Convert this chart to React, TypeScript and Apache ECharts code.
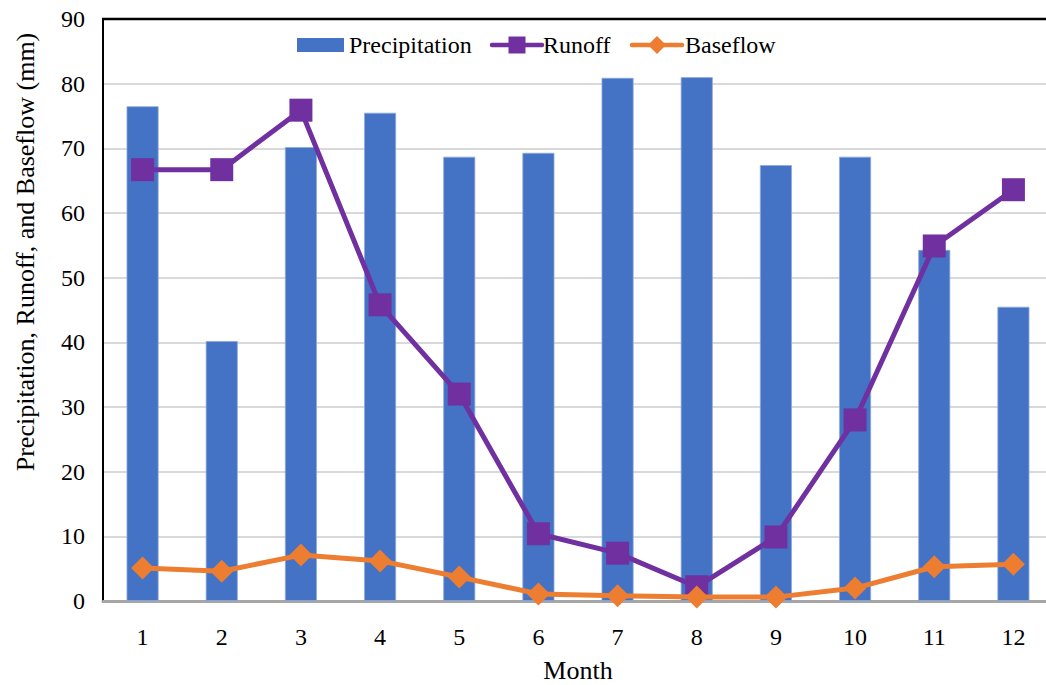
import React, { useEffect, useRef } from "react";
import * as echarts from "echarts";

const months = ["1", "2", "3", "4", "5", "6", "7", "8", "9", "10", "11", "12"];
const precipitation = [76.5, 40.2, 70.2, 75.5, 68.7, 69.3, 80.9, 81.0, 67.4, 68.7, 54.3, 45.5];
const runoff = [66.7, 66.7, 75.9, 45.8, 32.0, 10.4, 7.4, 2.2, 9.9, 28.0, 54.9, 63.6];
const baseflow = [5.1, 4.6, 7.1, 6.2, 3.7, 1.1, 0.8, 0.6, 0.6, 2.0, 5.3, 5.7];

const FONT = "Times New Roman";
const BLUE = "#4472C4";
const PURPLE = "#7030A0";
const ORANGE = "#ED7D31";

export default function App() {
  const ref = useRef<HTMLDivElement>(null);
  useEffect(() => {
    if (!ref.current) return;
    const chart = echarts.init(ref.current, null, { renderer: "svg" });
    const legendText = (x: number, text: string) => ({
      type: "text",
      x,
      y: 45,
      style: {
        text,
        fontFamily: FONT,
        fontSize: 24,
        fill: "#000",
        textAlign: "left",
        textVerticalAlign: "middle",
      },
    });
    chart.setOption({
      animation: false,
      textStyle: { fontFamily: FONT },
      grid: { left: 103, top: 19, right: -7, bottom: 84, containLabel: false, outerBoundsMode: "none" },
      xAxis: {
        type: "category",
        data: months,
        name: "Month",
        nameLocation: "middle",
        nameGap: 56,
        nameTextStyle: { fontFamily: FONT, fontSize: 26, color: "#000" },
        axisLine: { lineStyle: { color: "#a6a6a6", width: 3 } },
        axisTick: { show: false },
        axisLabel: { fontFamily: FONT, fontSize: 24, color: "#000", margin: 24 },
      },
      yAxis: {
        type: "value",
        min: 0,
        max: 90,
        interval: 10,
        axisLine: { show: true, lineStyle: { color: "#000", width: 2 } },
        axisTick: { show: false },
        axisLabel: { fontFamily: FONT, fontSize: 24, color: "#000", margin: 18 },
        splitLine: { lineStyle: { color: "#d9d9d9", width: 2 } },
      },
      graphic: [
        {
          type: "line",
          shape: { x1: 102, y1: 19, x2: 1046, y2: 19 },
          style: { stroke: "#000", lineWidth: 2.5 },
          z: 100,
        },
        {
          type: "text",
          x: 25,
          y: 252,
          rotation: Math.PI / 2,
          style: {
            text: "Precipitation, Runoff, and Baseflow (mm)",
            fontFamily: FONT,
            fontSize: 26,
            fill: "#000",
            textAlign: "center",
            textVerticalAlign: "middle",
          },
        },
        // legend
        {
          type: "rect",
          shape: { x: 297, y: 38, width: 47, height: 14 },
          style: { fill: BLUE },
          z: 50,
        },
        legendText(349, "Precipitation"),
        {
          type: "line",
          shape: { x1: 492, y1: 45, x2: 542, y2: 45 },
          style: { stroke: PURPLE, lineWidth: 4.5, lineCap: "round" },
          z: 50,
        },
        {
          type: "rect",
          shape: { x: 508.5, y: 36.5, width: 17, height: 17 },
          style: { fill: PURPLE },
          z: 51,
        },
        legendText(543, "Runoff"),
        {
          type: "line",
          shape: { x1: 632, y1: 45, x2: 682, y2: 45 },
          style: { stroke: ORANGE, lineWidth: 4.5, lineCap: "round" },
          z: 50,
        },
        {
          type: "polygon",
          shape: { points: [[657, 36], [666, 45], [657, 54], [648, 45]] },
          style: { fill: ORANGE },
          z: 51,
        },
        legendText(685, "Baseflow"),
      ],
      series: [
        {
          name: "Precipitation",
          type: "bar",
          data: precipitation,
          barWidth: 32,
          itemStyle: { color: BLUE, borderColor: "#8eaadb", borderWidth: 0.8 },
        },
        {
          name: "Runoff",
          type: "line",
          data: runoff,
          symbol: "rect",
          symbolSize: 23,
          lineStyle: { color: PURPLE, width: 5 },
          itemStyle: { color: PURPLE },
          z: 3,
        },
        {
          name: "Baseflow",
          type: "line",
          data: baseflow,
          symbol: "diamond",
          symbolSize: 23,
          lineStyle: { color: ORANGE, width: 5 },
          itemStyle: { color: ORANGE },
          z: 4,
        },
      ],
    });
    return () => chart.dispose();
  }, []);
  return (
    <div
      ref={ref}
      style={{ position: "absolute", left: 0, top: 0, width: 1046, height: 685, background: "#fff" }}
    />
  );
}
